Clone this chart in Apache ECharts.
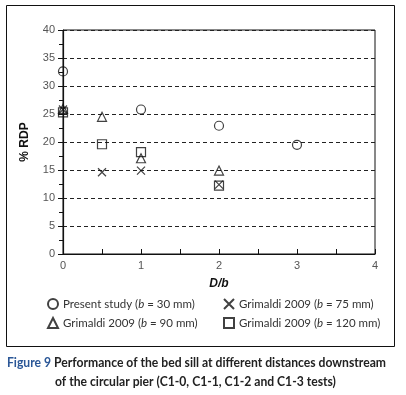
<!DOCTYPE html>
<html><head><meta charset="utf-8">
<script src="https://cdn.jsdelivr.net/npm/echarts@6/dist/echarts.min.js"></script>
<style>html,body{margin:0;padding:0;background:#fff}#c{width:406px;height:395px}</style>
</head><body><div id="c"></div>
<script>
// Data
const presentX = [0, 1, 2, 3];
const presentY = [32.6, 25.8, 22.9, 19.5];
const g75X = [0, 0.5, 1, 2];
const g75Y = [25.8, 14.6, 14.9, 12.4];
const g90X = [0, 0.5, 1, 2];
const g90Y = [25.9, 24.5, 17.1, 14.9];
const g120X = [0, 0.5, 1, 2];
const g120Y = [25.3, 19.6, 18.2, 12.2];
const seriesNames = ['Present study (b = 30 mm)', 'Grimaldi 2009 (b = 75 mm)', 'Grimaldi 2009 (b = 90 mm)', 'Grimaldi 2009 (b = 120 mm)'];
const legendText = [['Present study (', ' = 30 mm)'], ['Grimaldi 2009 (', ' = 75 mm)'], ['Grimaldi 2009 (', ' = 90 mm)'], ['Grimaldi 2009 (', ' = 120 mm)']];
const yTicks = [0, 5, 10, 15, 20, 25, 30, 35, 40];
const xTicks = [0, 1, 2, 3, 4];

const zip = (xs, ys) => xs.map((x, i) => [x, ys[i]]);
const FONT = "Lato, 'Liberation Sans', sans-serif";
const markerStyle = {color: 'rgba(0,0,0,0)', borderColor: '#111', borderWidth: 1.2};
const crossPath = 'path://M0,0L10,10M10,0L0,10';

function mkSeries(name, data, symbol, size) {
  return {name, type: 'scatter', data, symbol, symbolSize: size, clip: false,
    itemStyle: Object.assign({}, markerStyle), emphasis: {disabled: true}, z: 5};
}

const legendPos = [[47, 298], [223, 298], [47, 317], [223, 317]];
const legends = seriesNames.map((n, i) => ({
  data: [n], left: legendPos[i][0], top: legendPos[i][1], padding: 0,
  itemWidth: 10, itemHeight: 10, itemGap: 0, selectedMode: false,
  formatter: () => '{a|' + legendText[i][0] + '}{i|b}{a|' + legendText[i][1] + '}',
  textStyle: {rich: {
    a: {fontFamily: FONT, fontSize: 11.5, color: '#333'},
    i: {fontFamily: FONT, fontSize: 11.5, color: '#333', fontStyle: 'italic'}
  }}
}));

const chart = echarts.init(document.getElementById('c'), null, {renderer: 'canvas'});
chart.setOption({
  animation: false,
  backgroundColor: '#fff',
  grid: {left: 63, top: 30, width: 312, height: 224, show: true, borderColor: '#111', borderWidth: 1, backgroundColor: 'rgba(0,0,0,0)'},
  legend: legends,
  xAxis: {
    type: 'value', min: xTicks[0], max: xTicks[xTicks.length - 1], interval: 1,
    name: 'D/b', nameLocation: 'middle', nameGap: 24,
    nameTextStyle: {fontFamily: "'Liberation Sans',sans-serif", fontWeight: 'bold', fontStyle: 'italic', fontSize: 12, color: '#111'},
    axisLine: {show: true, lineStyle: {color: '#111', width: 1.2}},
    axisTick: {show: true, inside: true, length: 5, lineStyle: {color: '#111'}},
    minorTick: {show: true, splitNumber: 2, length: 5, lineStyle: {color: '#111'}},
    splitLine: {show: false},
    axisLabel: {fontFamily: "'Liberation Sans',sans-serif", fontSize: 11, color: '#555', margin: 6}
  },
  yAxis: {
    type: 'value', min: yTicks[0], max: yTicks[yTicks.length - 1], interval: 5,
    name: '% RDP', nameLocation: 'middle', nameGap: 32, nameRotate: 90,
    nameTextStyle: {fontFamily: "'Liberation Sans',sans-serif", fontWeight: 'bold', fontSize: 12, color: '#111'},
    axisLine: {show: true, lineStyle: {color: '#111', width: 1.2}},
    axisTick: {show: true, inside: false, length: 5, lineStyle: {color: '#111'}},
    minorTick: {show: true, splitNumber: 2, length: 4, lineStyle: {color: '#111'}},
    splitLine: {show: true, lineStyle: {color: '#222', type: [4, 3], width: 1}},
    axisLabel: {fontFamily: "'Liberation Sans',sans-serif", fontSize: 11, color: '#555', margin: 8}
  },
  series: [
    mkSeries(seriesNames[0], zip(presentX, presentY), 'circle', 9),
    mkSeries(seriesNames[1], zip(g75X, g75Y), crossPath, 8),
    mkSeries(seriesNames[2], zip(g90X, g90Y), 'triangle', 9),
    mkSeries(seriesNames[3], zip(g120X, g120Y), 'rect', 9)
  ],
  graphic: [
    {type: 'rect', shape: {x: 6.5, y: 5.5, width: 388, height: 341}, style: {fill: 'none', stroke: '#111', lineWidth: 1}, z: -1},
    {type: 'text', x: 7, y: 356, scaleX: 0.9, style: {
      text: '{b|Figure 9 }{k|Performance of the bed sill at different distances downstream}',
      rich: {
        b: {fontFamily: FONT, fontWeight: 'bold', fontSize: 13.5, fill: '#2b5797'},
        k: {fontFamily: FONT, fontWeight: 'bold', fontSize: 13.5, fill: '#222'}
      }}},
    {type: 'text', x: 55, y: 375, scaleX: 0.9, style: {
      text: 'of the circular pier (C1-0, C1-1, C1-2 and C1-3 tests)',
      fontFamily: FONT, fontWeight: 'bold', fontSize: 13.5, fill: '#222'}}
  ]
});
</script>
</body></html>
